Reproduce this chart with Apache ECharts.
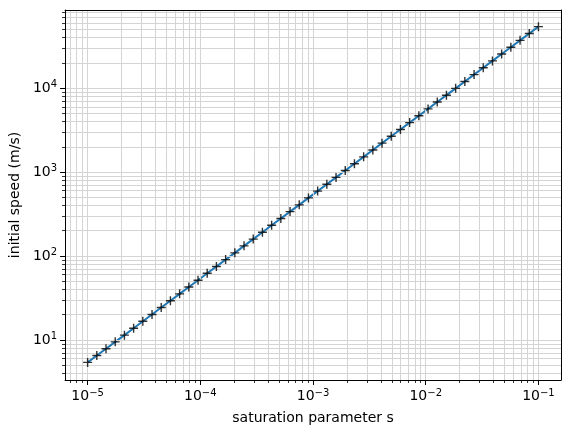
<!DOCTYPE html>
<html>
<head>
<meta charset="utf-8">
<script src="https://cdn.jsdelivr.net/npm/echarts@6/dist/echarts.min.js"></script>
<style>
  html, body { margin: 0; padding: 0; background: #fff; }
  #chart { width: 570px; height: 437px; }
</style>
</head>
<body>
<div id="chart"></div>
<script>
// values
const saturation = [
  1.000e-5, 1.207e-5, 1.456e-5, 1.758e-5, 2.121e-5, 2.560e-5, 3.089e-5, 3.728e-5, 4.498e-5, 5.429e-5,
  6.551e-5, 7.906e-5, 9.541e-5, 1.151e-4, 1.389e-4, 1.677e-4, 2.024e-4, 2.442e-4, 2.947e-4, 3.556e-4,
  4.292e-4, 5.179e-4, 6.251e-4, 7.543e-4, 9.103e-4, 1.099e-3, 1.326e-3, 1.600e-3, 1.931e-3, 2.330e-3,
  2.812e-3, 3.393e-3, 4.095e-3, 4.942e-3, 5.964e-3, 7.197e-3, 8.685e-3, 1.048e-2, 1.265e-2, 1.526e-2,
  1.842e-2, 2.223e-2, 2.683e-2, 3.237e-2, 3.907e-2, 4.715e-2, 5.690e-2, 6.866e-2, 8.286e-2, 1.000e-1
]
const speed = [
  5.40, 6.52, 7.86, 9.49, 11.4, 13.8, 16.7, 20.1, 24.3, 29.3,
  35.4, 42.7, 51.5, 62.2, 75.0, 90.6, 109, 132, 159, 192,
  232, 280, 338, 407, 492, 593, 716, 864, 1043, 1258,
  1518, 1832, 2211, 2669, 3220, 3886, 4690, 5660, 6830, 8243,
  9947, 12000, 14490, 17480, 21100, 25460, 30730, 37080, 44750, 54000
]

const xMajorTicks = [1e-5, 1e-4, 1e-3, 1e-2, 1e-1]
const xMinorTicks = [
  7e-6, 8e-6, 9e-6,
  2e-5, 3e-5, 4e-5, 5e-5, 6e-5, 7e-5, 8e-5, 9e-5,
  2e-4, 3e-4, 4e-4, 5e-4, 6e-4, 7e-4, 8e-4, 9e-4,
  2e-3, 3e-3, 4e-3, 5e-3, 6e-3, 7e-3, 8e-3, 9e-3,
  2e-2, 3e-2, 4e-2, 5e-2, 6e-2, 7e-2, 8e-2, 9e-2
]
const yMajorTicks = [1e1, 1e2, 1e3, 1e4]
const yMinorTicks = [
  4, 5, 6, 7, 8, 9,
  20, 30, 40, 50, 60, 70, 80, 90,
  200, 300, 400, 500, 600, 700, 800, 900,
  2000, 3000, 4000, 5000, 6000, 7000, 8000, 9000,
  20000, 30000, 40000, 50000, 60000, 70000, 80000
]

const X_MIN = 6.31e-6
const X_MAX = 0.1585
const Y_MIN = 3.33
const Y_MAX = 85300

const FONT = 'DejaVu Sans'
const GRID_COLOR = '#d4d4d4'
const FRAME = { show: true, lineStyle: { color: '#000', width: 1 } }

function powerLabel(value) {
  const exp = Math.round(Math.log10(value))
  return '{a|10}{b|' + String(exp).replace('-', '\u2212') + '}'
}

const labelRich = {
  a: { fontFamily: FONT, fontSize: 14, color: '#000' },
  b: { fontFamily: FONT, fontSize: 10, color: '#000', padding: [0, 0, 7, 0] },
}

function majorAxis(ticks, extra) {
  return Object.assign({
    type: 'log',
    logBase: 10,
    axisLine: FRAME,
    axisTick: {
      customValues: ticks,
      length: 5,
      lineStyle: { color: '#000', width: 1 },
    },
    axisLabel: {
      customValues: ticks,
      formatter: powerLabel,
      rich: labelRich,
      color: '#000',
    },
    splitLine: { show: true, lineStyle: { color: GRID_COLOR, width: 1 } },
    nameTextStyle: { fontFamily: FONT, fontSize: 14, color: '#000' },
    z: 3,
  }, extra)
}

function minorAxis(ticks, extra) {
  return Object.assign({
    type: 'log',
    logBase: 10,
    axisLine: { show: false },
    axisTick: {
      customValues: ticks,
      length: 3,
      lineStyle: { color: '#000', width: 0.8 },
    },
    axisLabel: { show: false },
    splitLine: { show: true, lineStyle: { color: GRID_COLOR, width: 1 } },
  }, extra)
}

// top / right spines only
function frameAxis(extra) {
  return Object.assign({
    type: 'log',
    logBase: 10,
    axisLine: FRAME,
    axisTick: { show: false },
    axisLabel: { show: false },
    splitLine: { show: false },
    z: 3,
  }, extra)
}

const points = saturation.map((s, i) => [s, speed[i]])

const chart = echarts.init(document.getElementById('chart'))
chart.setOption({
  animation: false,
  textStyle: { fontFamily: FONT },
  grid: { left: 65, top: 10, right: 9, bottom: 57 },
  xAxis: [
    majorAxis(xMajorTicks, {
      min: X_MIN,
      max: X_MAX,
      position: 'bottom',
      name: 'saturation parameter s',
      nameLocation: 'middle',
      nameGap: 31,
    }),
    minorAxis(xMinorTicks, { min: X_MIN, max: X_MAX, position: 'bottom' }),
    frameAxis({ min: X_MIN, max: X_MAX, position: 'top' }),
  ],
  yAxis: [
    majorAxis(yMajorTicks, {
      min: Y_MIN,
      max: Y_MAX,
      position: 'left',
      name: 'initial speed (m/s)',
      nameLocation: 'middle',
      nameGap: 43,
    }),
    minorAxis(yMinorTicks, { min: Y_MIN, max: Y_MAX, position: 'left' }),
    frameAxis({ min: Y_MIN, max: Y_MAX, position: 'right' }),
  ],
  series: [
    {
      type: 'line',
      data: points,
      showSymbol: false,
      lineStyle: { color: '#1f77b4', width: 2 },
      z: 2,
    },
    {
      type: 'scatter',
      data: points,
      symbol: 'path://M5,0V10M0,5H10',
      symbolSize: 9,
      itemStyle: { color: 'transparent', borderColor: '#000', borderWidth: 1.4 },
      z: 3,
    },
  ],
})
</script>
</body>
</html>
